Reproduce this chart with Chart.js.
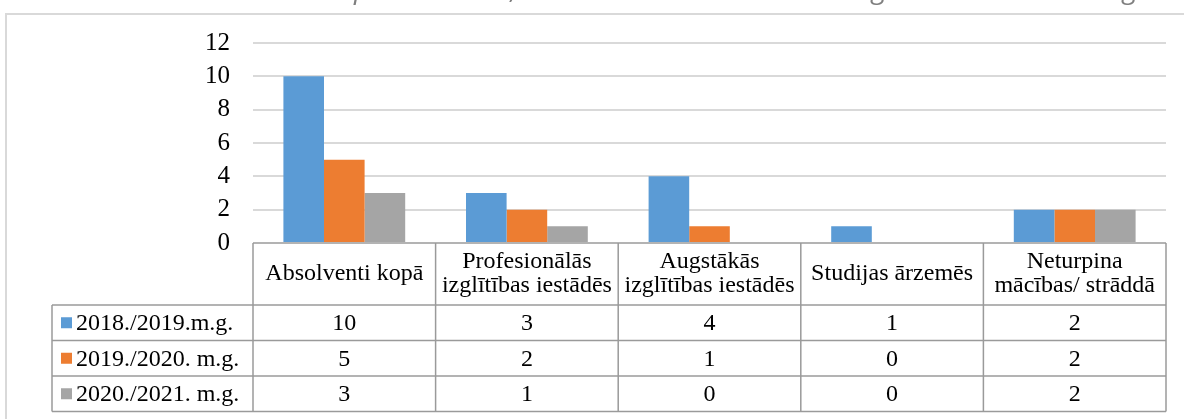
<!DOCTYPE html>
<html>
<head>
<meta charset="utf-8">
<script src="https://cdn.jsdelivr.net/npm/chart.js@4"></script>
<style>
  html, body { margin: 0; padding: 0; background: #ffffff; }
  #wrap { width: 1184px; height: 419px; position: relative; }
</style>
</head>
<body>
<div id="wrap"><canvas id="c" width="1184" height="419"></canvas></div>
<script>
// ---- data ----
const categories = [
  ["Absolventi kopā"],
  ["Profesionālās", "izglītības iestādēs"],
  ["Augstākās", "izglītības iestādēs"],
  ["Studijas ārzemēs"],
  ["Neturpina", "mācības/ strāddā"]
];
const seriesNames = ["2018./2019.m.g.", "2019./2020. m.g.", "2020./2021. m.g."];
const values2018 = [10, 3, 4, 1, 2];
const values2019 = [5, 2, 1, 0, 2];
const values2020 = [3, 1, 0, 0, 2];
const yTickValues = [0, 2, 4, 6, 8, 10, 12];
// cut-off heading glyphs visible at the very top of the picture
const headingFragments = ["p", ",", "g", "g"];

const seriesValues = [values2018, values2019, values2020];
const seriesColors = ["#5b9bd5", "#ed7d31", "#a5a5a5"];
const SERIF = "'Liberation Serif', 'Times New Roman', serif";

const framePlugin = {
  id: 'frame',
  beforeDraw(chart) {
    const ctx = chart.ctx;
    ctx.save();
    ctx.fillStyle = '#ffffff';
    ctx.fillRect(0, 0, chart.width, chart.height);
    // outer chart frame
    ctx.strokeStyle = '#d9d9d9';
    ctx.lineWidth = 2;
    ctx.strokeRect(6, 14, chart.width + 20, chart.height + 20);
    // cut-off heading (only descenders remain visible)
    ctx.fillStyle = '#7f7f7f';
    ctx.font = "italic 28px 'Open Sans', sans-serif";
    ctx.textBaseline = 'alphabetic';
    ctx.textAlign = 'center';
    const fx = [362, 514, 879, 1130];
    headingFragments.forEach((g, i) => ctx.fillText(g, fx[i], -2));
    ctx.restore();
  }
};

const tablePlugin = {
  id: 'dataTable',
  afterDraw(chart) {
    const ctx = chart.ctx;
    const xs = chart.scales.x;
    const area = chart.chartArea;
    const n = categories.length;
    const catW = (area.right - area.left) / n;
    const top = area.bottom;
    const headerH = 62;
    const rowH = 35.5;
    const legendLeft = 52;
    const rowTops = [top + headerH, top + headerH + rowH, top + headerH + 2 * rowH];
    const bottom = top + headerH + 3 * rowH;

    ctx.save();
    ctx.strokeStyle = '#9a9a9a';
    ctx.lineWidth = 1.5;
    ctx.beginPath();
    ctx.moveTo(area.left, top); ctx.lineTo(area.right, top);
    rowTops.forEach(y => { ctx.moveTo(legendLeft, y); ctx.lineTo(area.right, y); });
    ctx.moveTo(legendLeft, bottom); ctx.lineTo(area.right, bottom);
    ctx.moveTo(legendLeft, rowTops[0]); ctx.lineTo(legendLeft, bottom);
    for (let i = 0; i <= n; i++) {
      const x = area.left + i * catW;
      ctx.moveTo(x, top); ctx.lineTo(x, bottom);
    }
    ctx.stroke();

    ctx.fillStyle = '#000000';
    ctx.font = '24px ' + SERIF;
    ctx.textAlign = 'center';
    ctx.textBaseline = 'middle';
    categories.forEach((lines, i) => {
      const cx = xs.getPixelForValue(i);
      const cy = top + headerH / 2;
      const lh = 24;
      lines.forEach((t, k) => {
        ctx.fillText(t, cx, cy + (k - (lines.length - 1) / 2) * lh);
      });
    });
    seriesValues.forEach((vals, r) => {
      const cy = rowTops[r] + rowH / 2;
      ctx.fillStyle = seriesColors[r];
      ctx.fillRect(61, cy - 5.5, 11, 11);
      ctx.fillStyle = '#000000';
      ctx.textAlign = 'left';
      ctx.fillText(seriesNames[r], 76, cy + 1);
      ctx.textAlign = 'center';
      vals.forEach((v, i) => {
        ctx.fillText(String(v), xs.getPixelForValue(i), cy + 1);
      });
    });
    ctx.restore();
  }
};

new Chart(document.getElementById('c'), {
  type: 'bar',
  data: {
    labels: categories,
    datasets: seriesNames.map((name, i) => ({
      label: name,
      data: seriesValues[i],
      backgroundColor: seriesColors[i],
      borderWidth: 0
    }))
  },
  options: {
    responsive: false,
    animation: false,
    devicePixelRatio: 1,
    layout: { padding: { top: 43, right: 18, bottom: 0, left: 0 } },
    datasets: { bar: { categoryPercentage: 0.667, barPercentage: 1.0 } },
    plugins: { legend: { display: false }, tooltip: { enabled: false } },
    scales: {
      x: {
        grid: { display: false },
        border: { display: false },
        ticks: { display: false },
        afterFit(s) { s.height = 176; }
      },
      y: {
        min: 0, max: 12,
        afterBuildTicks(s) { s.ticks = yTickValues.map(v => ({ value: v })); },
        grid: {
          drawTicks: false,
          lineWidth: 2,
          color: (c) => (c.tick && c.tick.value === 0) ? 'rgba(0,0,0,0)' : '#d9d9d9'
        },
        border: { display: false },
        ticks: {
          padding: 23,
          color: '#000000',
          font: { family: SERIF, size: 25 }
        },
        afterFit(s) { s.width = 253; }
      }
    }
  },
  plugins: [framePlugin, tablePlugin]
});
</script>
</body>
</html>
